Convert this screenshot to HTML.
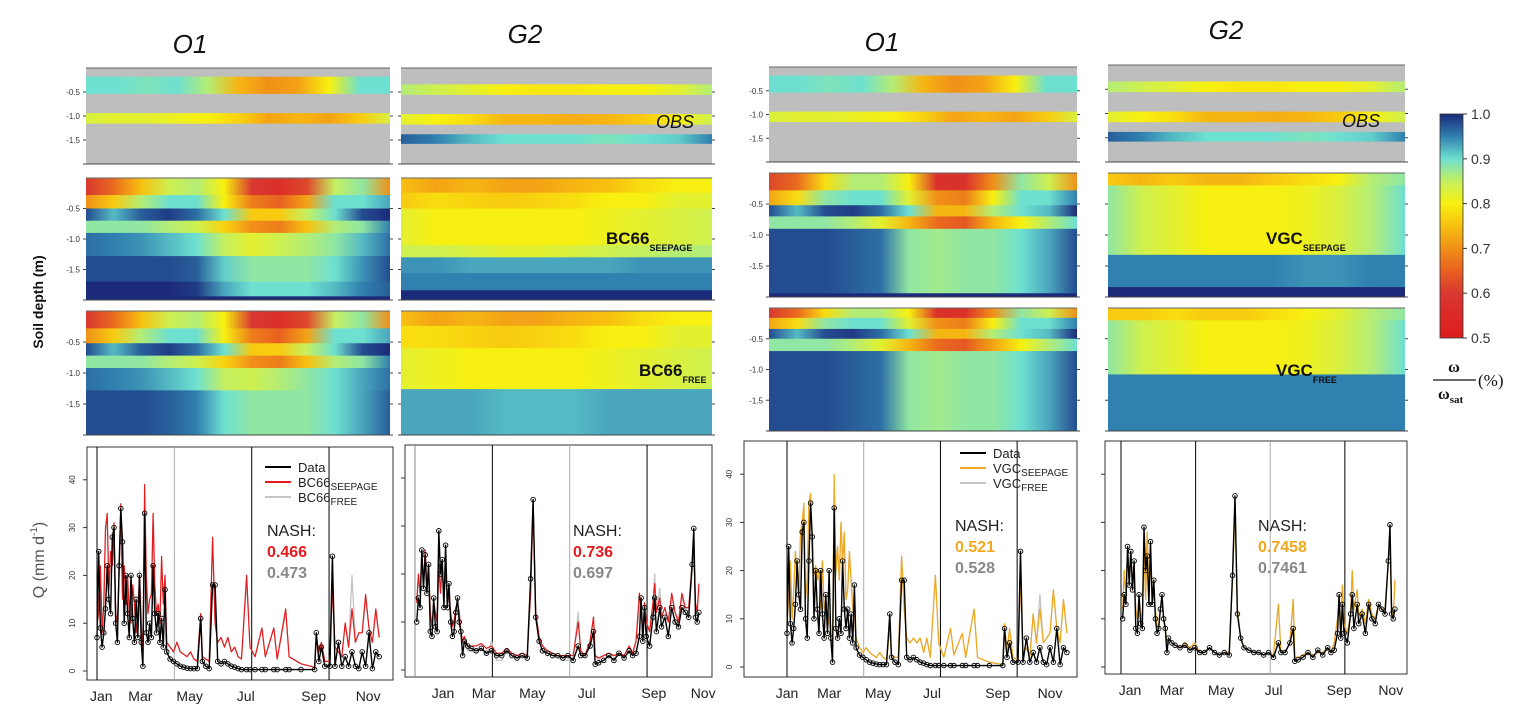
<!DOCTYPE html>
<html><head><meta charset="utf-8">
<style>
html,body{margin:0;padding:0;background:#fff;}
svg{display:block;font-family:"Liberation Sans",sans-serif;}
</style></head>
<body>
<svg id="fig" width="1532" height="724" viewBox="0 0 1532 724" xmlns="http://www.w3.org/2000/svg">
<defs id="defs"></defs>
<g font-style="italic" font-size="26" fill="#111" text-anchor="middle">
<text x="190" y="53">O1</text>
<text x="525" y="43">G2</text>
<text x="882" y="51">O1</text>
<text x="1226" y="39">G2</text>
</g>
<text transform="translate(43,302) rotate(-90)" text-anchor="middle" font-size="14" font-weight="bold" fill="#111">Soil depth (m)</text>
<text transform="translate(44,560) rotate(-90)" text-anchor="middle" font-size="16" fill="#555">Q (mm d<tspan dy="-7" font-size="10">-1</tspan><tspan dy="7">)</tspan></text>
<g id="heat"></g>
<g id="charts"></g>
<g id="cbar"></g>
<g fill="#111">
<text x="656" y="128" font-size="18" font-style="italic">OBS</text>
<text x="1342" y="127" font-size="18" font-style="italic">OBS</text>
<text x="606" y="244" font-size="17" font-weight="bold">BC66<tspan dy="7" font-size="9">SEEPAGE</tspan></text>
<text x="639" y="376" font-size="17" font-weight="bold">BC66<tspan dy="7" font-size="9">FREE</tspan></text>
<text x="1266" y="244" font-size="17" font-weight="bold">VGC<tspan dy="7" font-size="9">SEEPAGE</tspan></text>
<text x="1276" y="376" font-size="17" font-weight="bold">VGC<tspan dy="7" font-size="9">FREE</tspan></text>
</g>
<g fill="#111" font-family="Liberation Serif,serif">
<text x="1454" y="372" font-size="16" font-weight="bold" text-anchor="middle">ω</text>
<line x1="1433" y1="380" x2="1476" y2="380" stroke="#111" stroke-width="1.2"/>
<text x="1438" y="399" font-size="16" font-weight="bold">ω<tspan dy="4" font-size="11">sat</tspan></text>
<text x="1478" y="386" font-size="17">(%)</text>
</g>
</svg>
<script>
// ---------- heatmap data (bands: [topFrac, bottomFrac, values across time or null = no data]) ----------
const cbarTicks = [1.0, 0.9, 0.8, 0.7, 0.6, 0.5];
const obsO1 = [[0,0.09,null],[0.09,0.27,[0.9,0.9,0.89,0.9,0.86,0.74,0.7,0.72,0.8,0.9,0.9]],[0.27,0.47,null],[0.47,0.58,[0.83,0.82,0.82,0.81,0.8,0.77,0.72,0.74,0.72,0.76,0.83]],[0.58,1,null]];
const obsG2 = [[0,0.17,null],[0.17,0.28,[0.86,0.84,0.82,0.8,0.79,0.79,0.8,0.8,0.82,0.86]],[0.28,0.48,null],[0.48,0.59,[0.82,0.8,0.78,0.74,0.74,0.73,0.74,0.76,0.8,0.84]],[0.59,0.69,null],[0.69,0.79,[0.97,0.95,0.92,0.9,0.9,0.9,0.89,0.9,0.91,0.95]],[0.79,1,null]];
const bcSeepO1 = [[0,0.14,[0.6,0.66,0.75,0.84,0.86,0.8,0.6,0.57,0.62,0.85,0.88,0.7]],[0.14,0.25,[0.7,0.76,0.86,0.9,0.9,0.8,0.68,0.65,0.72,0.9,0.9,0.93]],[0.25,0.35,[0.98,0.92,0.97,0.99,0.96,0.9,0.76,0.76,0.85,0.9,0.98,1.0]],[0.35,0.45,[0.88,0.88,0.88,0.86,0.84,0.77,0.7,0.68,0.75,0.86,0.88,0.95]],[0.45,0.64,[0.96,0.95,0.94,0.92,0.9,0.85,0.82,0.84,0.86,0.88,0.92,0.96]],[0.64,0.85,[0.98,0.98,0.98,0.98,0.97,0.91,0.88,0.88,0.88,0.9,0.94,0.98]],[0.85,0.97,[1,1,1,1,0.99,0.93,0.9,0.9,0.9,0.92,0.95,0.97]],[0.97,1,[1,1,1,1,1,1,1,1,1,1,1,1]]];
const bcFreeO1 = [[0,0.14,[0.6,0.66,0.75,0.84,0.86,0.8,0.6,0.57,0.62,0.85,0.88,0.7]],[0.14,0.26,[0.7,0.76,0.86,0.9,0.9,0.8,0.68,0.65,0.72,0.9,0.9,0.93]],[0.26,0.36,[0.98,0.92,0.97,0.99,0.96,0.9,0.76,0.76,0.85,0.9,0.98,1.0]],[0.36,0.46,[0.88,0.88,0.88,0.86,0.84,0.77,0.7,0.68,0.75,0.86,0.88,0.95]],[0.46,0.64,[0.96,0.95,0.94,0.92,0.9,0.85,0.84,0.86,0.88,0.9,0.93,0.96]],[0.64,1,[0.98,0.98,0.98,0.97,0.95,0.9,0.88,0.88,0.88,0.9,0.93,0.97]]];
const bcSeepG2 = [[0,0.12,[0.75,0.72,0.74,0.72,0.72,0.74,0.75,0.78,0.8,0.8]],[0.12,0.25,[0.76,0.78,0.77,0.76,0.77,0.78,0.8,0.8,0.82,0.82]],[0.25,0.55,[0.82,0.8,0.8,0.8,0.8,0.8,0.81,0.82,0.83,0.84]],[0.55,0.65,[0.84,0.84,0.83,0.82,0.82,0.83,0.84,0.85,0.86,0.86]],[0.65,0.78,[0.94,0.94,0.93,0.93,0.93,0.93,0.93,0.94,0.94,0.94]],[0.78,0.92,[0.95,0.95,0.95,0.95,0.95,0.95,0.95,0.95,0.95,0.95]],[0.92,1,[1,1,1,1,1,1,1,1,1,1]]];
const bcFreeG2 = [[0,0.12,[0.75,0.72,0.74,0.72,0.72,0.74,0.75,0.78,0.8,0.8]],[0.12,0.3,[0.78,0.78,0.77,0.76,0.77,0.78,0.8,0.8,0.82,0.82]],[0.3,0.63,[0.82,0.81,0.8,0.8,0.8,0.8,0.81,0.82,0.83,0.84]],[0.63,1,[0.93,0.93,0.93,0.92,0.92,0.92,0.93,0.93,0.93,0.93]]];
const vgSeepO1 = [[0,0.14,[0.62,0.66,0.78,0.86,0.86,0.8,0.58,0.58,0.7,0.88,0.84,0.7]],[0.14,0.26,[0.72,0.78,0.88,0.9,0.9,0.82,0.7,0.68,0.8,0.9,0.9,0.95]],[0.26,0.35,[0.98,0.92,0.98,0.99,0.96,0.9,0.74,0.74,0.86,0.9,0.92,1.0]],[0.35,0.45,[0.88,0.88,0.88,0.86,0.82,0.74,0.66,0.64,0.74,0.8,0.86,0.9]],[0.45,0.97,[0.98,0.98,0.98,0.97,0.96,0.88,0.87,0.88,0.88,0.9,0.93,0.98]],[0.97,1,[1,1,1,1,1,1,1,1,1,1,1,1]]];
const vgFreeO1 = [[0,0.08,[0.6,0.66,0.78,0.86,0.86,0.8,0.57,0.57,0.7,0.88,0.84,0.7]],[0.08,0.17,[0.72,0.78,0.88,0.9,0.9,0.82,0.7,0.68,0.8,0.9,0.9,0.95]],[0.17,0.25,[0.98,0.92,0.98,0.99,0.96,0.9,0.74,0.74,0.86,0.9,0.92,1.0]],[0.25,0.35,[0.88,0.88,0.88,0.86,0.82,0.74,0.66,0.64,0.72,0.8,0.86,0.9]],[0.35,1,[0.98,0.98,0.98,0.97,0.96,0.88,0.87,0.88,0.88,0.9,0.93,0.98]]];
const vgSeepG2 = [[0,0.1,[0.76,0.74,0.76,0.74,0.74,0.76,0.78,0.8,0.86,0.88]],[0.1,0.66,[0.88,0.84,0.82,0.8,0.8,0.8,0.81,0.83,0.86,0.9]],[0.66,0.92,[0.95,0.95,0.95,0.95,0.95,0.95,0.94,0.94,0.95,0.95]],[0.92,1,[1,1,1,1,1,1,1,1,1,1]]];
const vgFreeG2 = [[0,0.1,[0.76,0.76,0.78,0.76,0.76,0.78,0.8,0.82,0.86,0.88]],[0.1,0.54,[0.88,0.84,0.82,0.8,0.8,0.8,0.81,0.83,0.86,0.9]],[0.54,1,[0.95,0.95,0.95,0.95,0.95,0.95,0.95,0.95,0.95,0.95]]];

// ---------- discharge data ----------
const o1Days = [0,2,4,6,8,10,12,14,16,18,20,22,24,26,28,30,32,34,36,38,40,42,44,46,48,50,52,54,56,58,60,62,64,66,68,70,72,74,76,78,80,82,86,90,94,98,102,106,110,114,118,122,124,128,132,136,139,142,146,150,154,158,162,166,170,176,180,186,194,198,208,212,222,226,240,256,258,261,264,268,274,277,280,284,288,292,296,300,304,308,312,316,320,324,328,332];
const o1Obs = [7,25,9,5,8,13,22,15,12,28,30,10,6,22,34,27,10,20,12,7,20,11,6,15,7,20,6,1,33,8,6,10,7,22,12,8,12,6,11,5,17,4,2.5,2,1.5,1,0.8,0.6,0.5,0.5,0.5,11,2,1,0.5,18,18,2,1.5,2,1.5,1,0.8,0.5,0.3,0.3,0.3,0.3,0.3,0.3,0.3,0.3,0.3,0.3,0.3,0.3,8,2,5,1,1,24,1,6,1,3,1,4,1,0.5,4,1,8,0.5,4,3];
const o1Bc66Seep = [10,12,22,8,14,30,33,17,25,22,31,12,10,20,35,15,22,14,20,12,10,18,14,8,12,20,10,3,39,20,12,15,16,33,18,12,14,10,24,14,20,6,5,4,6,4,3.5,3,4,2.5,2,12,3,2.5,2,28,10,6,7,5,7,4,5,3,2.5,20,5,3,9,3,9,2.5,13,3,1.5,0.8,7,4,6,2,2,18,5,4,3,10,5,13,6,8,8,16,9,6,13,7];
const o1Bc66Free = [10,12,21,8,14,29,32,17,24,22,30,12,11,21,34,16,22,14,19,12,11,18,14,9,12,21,11,4,36,19,12,15,16,31,18,12,14,10,23,14,20,6,5,4,6,4,3.5,3,4,2.5,2,12,3,2.5,2,27,10,6,7,5,7,4,5,3,2.5,19,5,3,9,3,9,2.5,12,3,1.5,0.8,7,4,6,2,2,17,5,4,3,10,5,20,6,8,8,15,9,6,12,7];
const o1VgcSeep = [9,14,22,10,16,24,18,15,28,30,34,14,18,34,36,22,19,21,18,20,12,22,12,14,8,10,6,2,40,20,25,18,30,22,28,14,16,24,18,12,10,6,4,3,4,3,2.5,2,3,2,1.5,8,2.5,2,2,23,12,6,5,6,5,6,3,6,2,19,5,2,8,2.5,7,2,12,2,1,0.5,9,3,8,2,1.5,18,3,4,2,11,5,12,5,6,7,16,8,5,14,7];
const o1VgcFree = [9,14,21,10,16,24,18,15,27,30,33,14,18,34,36,22,20,21,18,20,12,22,12,14,8,11,6,2,38,19,25,18,30,22,27,14,16,24,18,12,10,6,4,3,4,3,2.5,2,3,2,1.5,8,2.5,2,2,23,12,6,5,6,5,6,3,6,2,19,5,2,8,2.5,7,2,12,2,1,0.5,9,3,8,2,1.5,18,3,4,2,11,5,15,5,6,7,16,8,5,14,7];

const g2Days = [2,4,6,8,10,12,14,16,18,20,22,24,26,28,30,32,34,36,38,40,42,44,46,48,50,52,54,56,58,62,66,72,78,84,90,96,102,108,114,120,126,132,136,139,142,146,150,156,162,168,174,180,186,192,195,200,206,210,212,216,222,228,234,240,246,252,256,260,264,266,268,270,272,276,280,282,284,288,290,294,298,302,306,310,314,318,322,326,328,330,332,334];
const g2Obs = [10,15,13,25,17,24,16,22,8,7,15,9,8,29,20,23,13,26,13,18,10,7,8,12,15,10,8,3,6,5,4.5,4,4.5,3.5,4,3,3,4,3,2.5,3,2.5,19,35.5,11,6,4,3.5,3,3,2.5,3,2,5,3,3,5,8,1.2,1.5,2,3,2,3.5,2.5,4,3,3.5,7,15,6,13,7,5,11,15,8,13,9,11,7,13,10,9,13,12,11,22,29.5,11,10,12];
const g2Bc66Seep = [14,20,16,24,18,25,17,22,12,9,14,12,10,22,16,22,15,20,16,15,12,9,10,13,14,12,8,6,7,5,5,5,5.5,4.5,5,3.5,3.5,4.5,3.5,3,3.5,3,16,35,12,7,5,4,3.5,3,3,3,3,10,4,3,6,11,3,2.5,3,3.5,3,3.5,3,5,3.5,6,16,12,8,14,10,8,14,18,12,15,11,13,10,16,12,10,16,13,13,22,25,14,12,18];
const g2Bc66Free = [14,19,16,23,18,24,17,21,12,9,14,12,10,22,16,22,15,20,16,15,11,9,10,13,14,12,8,6,6,4,4,3.5,4.5,3,6,2,2,4,3,2.5,3,2.5,16,34,12,7,5,3.5,3,2.5,2,2,2,12,3,2.5,6,11,3,2,3,3,3,3,3,5,3,6,13,14,8,13,10,8,14,20,12,17,11,13,10,15,12,10,15,13,12,20,24,14,12,17];
const g2VgcSeep = [12,20,15,24,18,24,18,20,12,10,14,11,9,25,14,28,15,22,16,15,12,8,9,12,14,10,8,5,6,5,4.5,4,5,4,5,3,3,4,3,2.5,3,3,18,33,12,6,4,3.5,3,3,2.5,3,2.5,13,3,3,5,14,2,2,2.5,3,2.5,3,3,4,3,5,10,15,7,17,9,7,11,20,12,16,10,12,9,14,11,10,13,12,12,22,26,12,10,18];
const g2VgcFree = [12,20,15,24,18,24,18,20,12,10,14,11,9,25,14,28,15,22,16,15,12,8,9,12,14,10,8,5,6,5,4.5,4,5,4,5,3,3,4,3,2.5,3,3,18,33,12,6,4,3.5,3,3,2.5,3,2.5,13,3,3,5,14,2,2,2.5,3,2.5,3,3,4,3,5,10,15,7,17,9,7,11,20,12,16,10,12,9,14,11,10,13,12,12,22,26,12,10,18];

const monthNames = ["Jan","Mar","May","Jul","Sep","Nov"];
const yTicks = [0,10,20,30,40];
const guideDays = [0,91,182,273];

// ---------- helpers ----------
const NS = "http://www.w3.org/2000/svg";
function mk(tag, attrs, parent){ const e=document.createElementNS(NS,tag); for(const k in attrs) e.setAttribute(k,attrs[k]); if(parent) parent.appendChild(e); return e; }
const cstops = [[0.5,[222,28,28]],[0.6,[216,56,48]],[0.65,[232,96,32]],[0.7,[240,144,24]],[0.75,[248,192,16]],[0.8,[248,240,16]],[0.85,[196,240,96]],[0.9,[110,224,208]],[0.95,[48,128,176]],[1.0,[28,42,122]]];
function cmap(v){
  if(v<=0.5) return "rgb(222,28,28)";
  for(let i=1;i<cstops.length;i++){ if(v<=cstops[i][0]){ const a=cstops[i-1],b=cstops[i],t=(v-a[0])/(b[0]-a[0]); const c=a[1].map((x,j)=>Math.round(x+(b[1][j]-x)*t)); return "rgb("+c.join(",")+")"; } }
  return "rgb(28,42,122)";
}
const defs = document.getElementById("defs");
let gid=0;
function gradient(vals, vertical){
  const id="g"+(gid++);
  const g=mk("linearGradient",{id:id,x1:0,y1:vertical?1:0,x2:vertical?0:1,y2:0},defs);
  vals.forEach((v,i)=>mk("stop",{offset:(i/(vals.length-1)),"stop-color":cmap(v)},g));
  return id;
}
const heatG = document.getElementById("heat");
function drawHeat(name,x,y,w,h,bands,ticks){
  const g=mk("g",{},heatG);
  
  
  bands.forEach((b)=>{
    const yy=y+b[0]*h, hh=(b[1]-b[0])*h;
    const r=mk("rect",{x:x,y:yy,width:w,height:hh+0.5,fill:b[2]?("url(#"+gradient(b[2])+")"):"#bebebe"},g);
    
    
  });
  mk("line",{x1:x,y1:y,x2:x+w,y2:y,stroke:"#666","stroke-width":1},g);
  mk("line",{x1:x,y1:y+h,x2:x+w,y2:y+h,stroke:"#444","stroke-width":1},g);
  // depth ticks (-0.5,-1.0,-1.5) at 1/4,1/2,3/4 of depth range
  [0.25,0.5,0.75,1].forEach((f,i)=>{
    const ty=y+f*h;
    mk("line",{x1:x-3,y1:ty,x2:x,y2:ty,stroke:"#444","stroke-width":1},g);
    mk("line",{x1:x+w,y1:ty,x2:x+w+3,y2:ty,stroke:"#444","stroke-width":1},g);
    if(ticks && i<3){ const t=mk("text",{x:x-6,y:ty+3,"font-size":8,"text-anchor":"end",fill:"#333"},g); t.textContent=["-0.5","-1.0","-1.5"][i];
        }
  });
}
drawHeat("heatmap-o1-obs-left",86,68,304,96,obsO1,true);
drawHeat("heatmap-g2-obs-left",401,68,311,96,obsG2,false);
drawHeat("heatmap-o1-bc66-seepage",86,178,304,122,bcSeepO1,true);
drawHeat("heatmap-g2-bc66-seepage",401,178,311,122,bcSeepG2,false);
drawHeat("heatmap-o1-bc66-free",86,311,304,124,bcFreeO1,true);
drawHeat("heatmap-g2-bc66-free",401,311,311,124,bcFreeG2,false);
drawHeat("heatmap-o1-obs-right",769,67,308,95,obsO1,true);
drawHeat("heatmap-g2-obs-right",1108,65,297,97,obsG2,false);
drawHeat("heatmap-o1-vgc-seepage",769,173,308,124,vgSeepO1,true);
drawHeat("heatmap-g2-vgc-seepage",1108,173,297,124,vgSeepG2,false);
drawHeat("heatmap-o1-vgc-free",769,308,308,123,vgFreeO1,true);
drawHeat("heatmap-g2-vgc-free",1108,308,297,123,vgFreeG2,false);

// colorbar
(function(){
  const g=document.getElementById("cbar");
  const x=1440,y=114,w=23,h=224;
  const vals=[]; for(let i=0;i<=50;i++) vals.push(0.5+i*0.01);
  mk("rect",{x:x,y:y,width:w,height:h,fill:"url(#"+gradient(vals,true)+")",stroke:"#333","stroke-width":0.8},g);
  cbarTicks.forEach(v=>{
    const ty=y+(1-v)/0.5*h;
    mk("line",{x1:x+w,y1:ty,x2:x+w+4,y2:ty,stroke:"#333"},g);
    const t=mk("text",{x:x+w+8,y:ty+5,"font-size":14,fill:"#333"},g); t.textContent=v.toFixed(1);
     
  });
})();

// discharge charts
const chartsG=document.getElementById("charts");
function drawQ(c){
  const g=mk("g",{},chartsG);
  
  
  const X=d=>c.day0+d*c.ppd, Y=v=>c.y0-v*c.ppu;
  const cid="clip"+(gid++);
  const cp=mk("clipPath",{id:cid},defs); mk("rect",{x:c.x0,y:c.y0t,width:c.x1-c.x0,height:c.yb-c.y0t},cp);
  mk("rect",{x:c.x0,y:c.y0t,width:c.x1-c.x0,height:c.yb-c.y0t,fill:"#fff",stroke:"#333","stroke-width":1},g);
  guideDays.forEach((d,i)=>mk("line",{x1:X(d),y1:c.y0t,x2:X(d),y2:c.yb,stroke:c.guideCol[i],"stroke-width":1},g));
  yTicks.forEach(v=>{
    mk("line",{x1:c.x0-4,y1:Y(v),x2:c.x0,y2:Y(v),stroke:"#333"},g);
    if(c.ylabels){ const t=mk("text",{"font-size":8,fill:"#333","text-anchor":"middle",transform:"translate("+(c.x0-12)+","+Y(v)+") rotate(-90)"},g); t.textContent=v;
        }
  });
  c.monthDays.forEach((d,i)=>{ const t=mk("text",{x:X(d),y:c.yb+21,"font-size":14,fill:"#222","text-anchor":"middle"},g); t.textContent=monthNames[i];
      });
  const pg=mk("g",{"clip-path":"url(#"+cid+")"},g);
  function line(vals,col,w,name){ const p=mk("polyline",{points:c.days.map((d,i)=>X(d).toFixed(1)+","+Y(vals[i]).toFixed(1)).join(" "),fill:"none",stroke:col,"stroke-width":w,"stroke-linejoin":"round"},pg);
      }
  line(c.free,"#c4c4c4",1.3,"series-free");
  line(c.seep,c.seepCol,1.2,"series-seepage");
  line(c.obs,"#000",1.4,"series-data");
  c.days.forEach((d,i)=>{ const ci=mk("circle",{cx:X(d),cy:Y(c.obs[i]),r:2.3,fill:"none",stroke:"#000","stroke-width":0.9},pg);
      });
  if(c.legend){
    const L=c.legend;
    [["#000","Data",""],[c.seepCol,c.model,"SEEPAGE"],["#c4c4c4",c.model,"FREE"]].forEach((e,i)=>{
      const ly=L.y+i*15;
      mk("line",{x1:L.x,y1:ly,x2:L.x+26,y2:ly,stroke:e[0],"stroke-width":2},g);
      const t=mk("text",{x:L.x+33,y:ly+5,"font-size":13,fill:"#222"},g);
       
      t.textContent=e[1]; if(e[2]){ const s=mk("tspan",{dy:3,"font-size":10},t); s.textContent=e[2]; }
    });
  }
  const n=c.nash;
  [["NASH:","#222","normal"],[n[0],c.seepCol,"bold"],[n[1],"#888","bold"]].forEach((e,i)=>{
    const t=mk("text",{x:n[2],y:n[3]+i*21,"font-size":16,fill:e[1],"font-weight":e[2]},g); t.textContent=e[0];
     
  });
}
drawQ({name:"chart-o1-bc66",x0:87,x1:393,y0t:447,yb:680,day0:97,ppd:0.85,y0:671,ppu:4.78,ylabels:true,guideCol:["#000","#aaa","#000","#000"],monthDays:[5,51,109,175,255,319],days:o1Days,obs:o1Obs,seep:o1Bc66Seep,free:o1Bc66Free,seepCol:"#e41a1c",model:"BC66",legend:{x:265,y:467},nash:["0.466","0.473",267,536]});
drawQ({name:"chart-g2-bc66",x0:405,x1:712,y0t:445,yb:677,day0:415,ppd:0.85,y0:670,ppu:4.8,ylabels:false,guideCol:["#888","#000","#aaa","#000"],monthDays:[33,81,138,202,281,339],days:g2Days,obs:g2Obs,seep:g2Bc66Seep,free:g2Bc66Free,seepCol:"#e41a1c",model:"BC66",legend:null,nash:["0.736","0.697",573,536]});
drawQ({name:"chart-o1-vgc",x0:744,x1:1077,y0t:441,yb:677,day0:787,ppd:0.843,y0:667,ppu:4.82,ylabels:true,guideCol:["#000","#aaa","#000","#000"],monthDays:[0,50,108,172,250,312],days:o1Days,obs:o1Obs,seep:o1VgcSeep,free:o1VgcFree,seepCol:"#f0a81c",model:"VGC",legend:{x:960,y:453},nash:["0.521","0.528",955,531]});
drawQ({name:"chart-g2-vgc",x0:1105,x1:1407,y0t:441,yb:674,day0:1121,ppd:0.82,y0:667,ppu:4.82,ylabels:false,guideCol:["#000","#000","#aaa","#000"],monthDays:[11,62,122,186,266,329],days:g2Days,obs:g2Obs,seep:g2VgcSeep,free:g2VgcFree,seepCol:"#f0a81c",model:"VGC",legend:null,nash:["0.7458","0.7461",1258,531]});
</script>
</body></html>
